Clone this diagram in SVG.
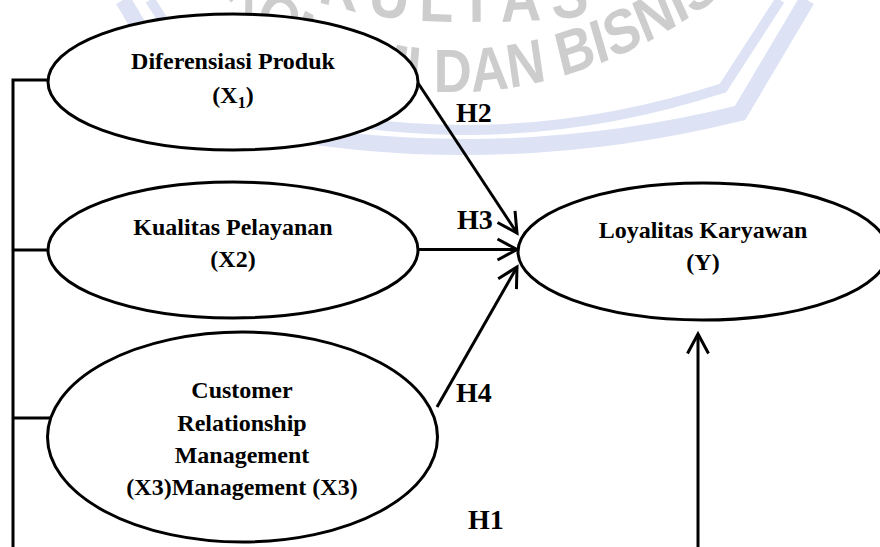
<svg xmlns="http://www.w3.org/2000/svg" width="880" height="547" viewBox="0 0 880 547">
  <defs>
    <style>
      .node { fill: #ffffff; stroke: #000000; stroke-width: 3; }
      .label { font-family: "Liberation Serif", "Times New Roman", serif; font-weight: bold; font-size: 24px; fill: #000000; text-anchor: middle; }
      .sub { font-size: 16px; }
      .hyp { font-family: "Liberation Serif", "Times New Roman", serif; font-weight: bold; font-size: 28px; fill: #000000; }
      .wire { fill: none; stroke: #000000; stroke-width: 3; }
      .arrow { fill: none; stroke: #000000; stroke-width: 3; marker-end: url(#chevron); }
      .band { fill: none; stroke: #dde3f5; stroke-linejoin: miter; }
      .mark { font-family: "Liberation Sans", Arial, sans-serif; font-weight: bold; fill: #cdcdcd; }
    </style>
    <marker id="chevron" markerUnits="userSpaceOnUse" viewBox="-24 -14 30 28" markerWidth="30" markerHeight="28" refX="0" refY="0" orient="auto">
      <path d="M-19.5,-10.5 L0,0 L-19.5,10.5" fill="none" stroke="#000000" stroke-width="3"/>
    </marker>
    <!-- baselines for the emblem lettering, in the narrowed (x / 0.85) space -->
    <path id="arcTop" d="M235,-60 C353,10 447,22 541,22 C635,22 753,20 894,-30"/>
    <path id="arcLow" d="M200,-70 L259,-10 C400,128 659,128 871,-20"/>
  </defs>

  <rect width="880" height="547" fill="#ffffff"/>

  <!-- faculty emblem in the background -->
  <g id="emblem">
    <path class="band" stroke-width="10" d="M150,0 L207,88 Q465,172 723,88 L780,0"/>
    <path class="band" stroke-width="16" d="M123,0 L190,113 Q465,181 740,113 L807,0"/>
    <g transform="scale(0.85 1)">
      <text class="mark" font-size="66" letter-spacing="13"><textPath href="#arcTop" startOffset="41">FAKULTAS</textPath></text>
      <text class="mark" font-size="62"><textPath href="#arcLow" startOffset="48">EKONOMI DAN BISNIS</textPath></text>
    </g>
  </g>

  <!-- bracket joining the three independent variables, and the hypothesis paths -->
  <g id="connectors">
    <path class="wire" d="M13,547 L13,80 L48,80 M13,250 L48,250 M13,418 L51,418"/>
    <line class="arrow" x1="418" y1="83" x2="517" y2="233"/>
    <line class="arrow" x1="418" y1="249.5" x2="517" y2="249.5"/>
    <line class="arrow" x1="437" y1="407" x2="517" y2="267"/>
    <line class="arrow" x1="698" y1="547" x2="698" y2="334"/>
    <text class="hyp" x="456" y="122">H2</text>
    <text class="hyp" x="457" y="229">H3</text>
    <text class="hyp" x="456" y="402">H4</text>
    <text class="hyp" x="468" y="529">H1</text>
  </g>

  <g id="node-x1">
    <ellipse class="node" cx="233" cy="82" rx="185" ry="68"/>
    <text class="label" x="233" y="69">Diferensiasi Produk</text>
    <text class="label" x="233" y="103">(X<tspan class="sub" dy="5">1</tspan><tspan dy="-5">)</tspan></text>
  </g>

  <g id="node-x2">
    <ellipse class="node" cx="233" cy="250" rx="185" ry="68"/>
    <text class="label" x="233" y="235">Kualitas Pelayanan</text>
    <text class="label" x="233" y="267">(X2)</text>
  </g>

  <g id="node-x3">
    <ellipse class="node" cx="242.5" cy="437" rx="195" ry="105"/>
    <text class="label" x="242" y="398">Customer</text>
    <text class="label" x="242" y="431">Relationship</text>
    <text class="label" x="242" y="463">Management</text>
    <text class="label" x="242" y="495">(X3)Management (X3)</text>
  </g>

  <g id="node-y">
    <ellipse class="node" cx="703" cy="251.5" rx="185" ry="68.5"/>
    <text class="label" x="703" y="238">Loyalitas Karyawan</text>
    <text class="label" x="703" y="270">(Y)</text>
  </g>
</svg>
